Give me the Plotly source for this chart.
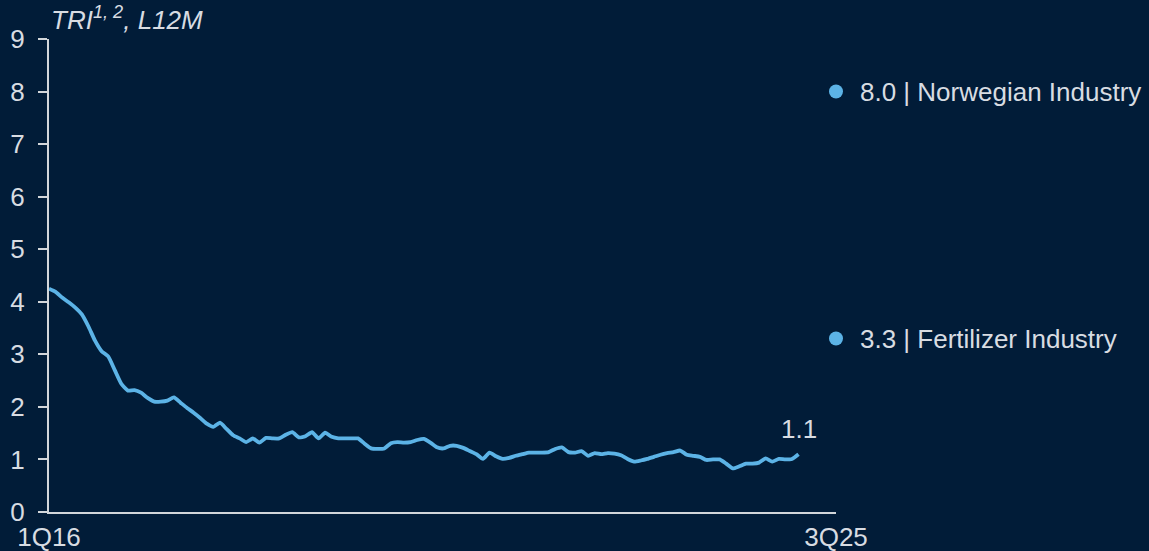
import plotly.graph_objects as go

# Total recordable injuries, last-12-month rolling value, monthly from 1Q16
tri_values = [
    4.25, 4.19, 4.08, 3.99, 3.89, 3.76, 3.53, 3.26, 3.06, 2.96,
    2.70, 2.44, 2.31, 2.32, 2.27, 2.17, 2.10, 2.10, 2.12, 2.18,
    2.08, 1.98, 1.89, 1.79, 1.68, 1.62, 1.70, 1.58, 1.46, 1.40,
    1.33, 1.40, 1.32, 1.41, 1.40, 1.40, 1.47, 1.52, 1.42, 1.44,
    1.52, 1.40, 1.51, 1.43, 1.40, 1.40, 1.40, 1.40, 1.30, 1.21,
    1.20, 1.21, 1.31, 1.33, 1.32, 1.33, 1.37, 1.39, 1.32, 1.23,
    1.21, 1.26, 1.26, 1.22, 1.16, 1.10, 1.01, 1.13, 1.06, 1.01,
    1.03, 1.07, 1.10, 1.13, 1.13, 1.13, 1.14, 1.20, 1.23, 1.14,
    1.13, 1.16, 1.07, 1.12, 1.10, 1.12, 1.11, 1.08, 1.01, 0.96,
    0.98, 1.01, 1.05, 1.09, 1.12, 1.14, 1.17, 1.09, 1.07, 1.05,
    0.99, 1.00, 1.00, 0.92, 0.83, 0.87, 0.92, 0.92, 0.94, 1.02,
    0.96, 1.01, 1.00, 1.01, 1.10,
]
months = list(range(len(tri_values)))

# Horizontal extent of the period axis (in months from 1Q16)
axis_end = 119.7
x_tick_positions = [0, axis_end]
x_tick_labels = ["1Q16", "3Q25"]

y_ticks = list(range(0, 10))

# Industry reference levels
benchmark_values = [8.0, 3.3]
benchmark_names = ["Norwegian Industry", "Fertilizer Industry"]

BG = "#011c38"
LINE = "#5cb3e6"
TEXT = "#d8dce2"
AXIS = "#d2d6da"
FONT = "Liberation Sans, Arial, sans-serif"
FS = 26

fig = go.Figure()

fig.add_trace(go.Scatter(
    x=months, y=tri_values, mode="lines",
    line=dict(color=LINE, width=3.8, shape="spline", smoothing=0.5),
    hoverinfo="skip", showlegend=False,
))

fig.add_trace(go.Scatter(
    x=[axis_end] * len(benchmark_values), y=benchmark_values, mode="markers",
    marker=dict(color=LINE, size=14),
    cliponaxis=False, hoverinfo="skip", showlegend=False,
))

for v, name in zip(benchmark_values, benchmark_names):
    fig.add_annotation(
        x=axis_end, y=v, text=f"{v:.1f} | {name}", showarrow=False,
        xanchor="left", yanchor="middle", xshift=22,
        font=dict(family=FONT, size=FS, color=TEXT),
    )

# Latest value label above the final point
fig.add_annotation(
    x=months[-1], y=tri_values[-1], text=f"{tri_values[-1]:.1f}",
    showarrow=False, xanchor="center", yanchor="bottom", yshift=8,
    font=dict(family=FONT, size=FS, color=TEXT),
)

fig.add_annotation(
    xref="paper", yref="paper", x=0, y=1, xanchor="left", yanchor="bottom",
    yshift=2, text="<i>TRI<sup>1, 2</sup>, L12M</i>", showarrow=False,
    font=dict(family=FONT, size=FS, color=TEXT),
)

fig.update_layout(
    width=1149, height=551,
    paper_bgcolor=BG, plot_bgcolor=BG,
    margin=dict(l=49, r=313, t=39, b=39),
    font=dict(family=FONT, size=FS, color=TEXT),
    showlegend=False,
)

fig.update_xaxes(
    range=[0, axis_end], showgrid=False, zeroline=False,
    showline=True, linecolor=AXIS, linewidth=2,
    tickmode="array", tickvals=x_tick_positions, ticktext=x_tick_labels,
    ticks="", ticklabelstandoff=1, automargin=False,
    tickfont=dict(family=FONT, size=FS, color=TEXT),
)

fig.update_yaxes(
    range=[0, 9], showgrid=False, zeroline=False,
    showline=True, linecolor=AXIS, linewidth=2,
    tickmode="array", tickvals=y_ticks,
    ticks="outside", ticklen=9, tickwidth=2, tickcolor=AXIS,
    ticklabelstandoff=8, automargin=False,
    tickfont=dict(family=FONT, size=FS, color=TEXT),
)

fig.write_html("out.html")
